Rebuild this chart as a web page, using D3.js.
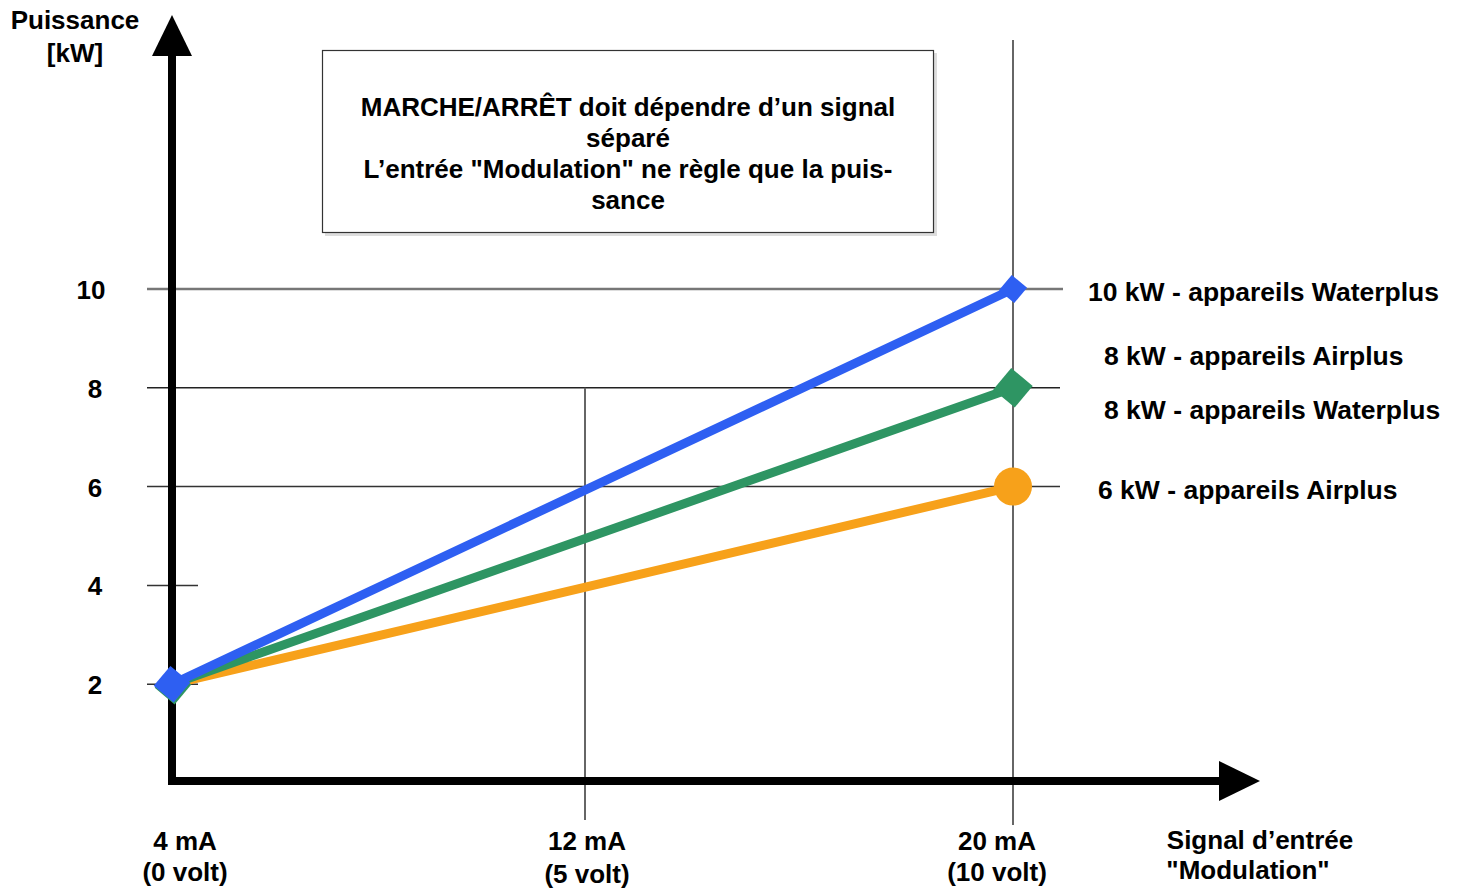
<!DOCTYPE html>
<html>
<head>
<meta charset="utf-8">
<script src="https://cdnjs.cloudflare.com/ajax/libs/d3/7.8.5/d3.min.js"></script>
<style>
  body { margin: 0; background: #fff; }
  text { font-family: "Liberation Sans", Arial, sans-serif; font-weight: bold; fill: #000; }
</style>
</head>
<body>
<div id="chart"></div>
<script>
  // data
  var signals = [4, 12, 20];
  var signalLabels = [["4 mA", "(0 volt)"], ["12 mA", "(5 volt)"], ["20 mA", "(10 volt)"]];
  var powerTicks = [2, 4, 6, 8, 10];
  var seriesNames = ["6 kW - appareils Airplus", "8 kW - appareils Waterplus", "10 kW - appareils Waterplus"];
  var seriesStart = [2, 2, 2];
  var seriesEnd = [6, 8, 10];
  var extraLabel = "8 kW - appareils Airplus";
  var noteLines = ["MARCHE/ARRÊT doit dépendre d’un signal", "séparé", "L’entrée \"Modulation\" ne règle que la puis-", "sance"];

  var W = 1462, H = 888;
  var svg = d3.select("#chart")
    .append("svg")
    .attr("width", W)
    .attr("height", H);

  var x = d3.scaleLinear().domain([4, 12, 20]).range([172, 585, 1013]);
  var y = d3.scaleLinear().domain([0, 10]).range([783, 289]);

  var colors = ["#f7a11a", "#2e9563", "#2e5ff2"];

  // horizontal grid lines
  svg.append("line").attr("x1", 147).attr("x2", 1063).attr("y1", y(10)).attr("y2", y(10))
    .style("stroke", "#777").style("stroke-width", 2.5);
  svg.append("line").attr("x1", 147).attr("x2", 1060).attr("y1", y(8)).attr("y2", y(8))
    .style("stroke", "#222").style("stroke-width", 1.5);
  svg.append("line").attr("x1", 147).attr("x2", 1060).attr("y1", y(6)).attr("y2", y(6))
    .style("stroke", "#333").style("stroke-width", 1.5);
  svg.append("line").attr("x1", 147).attr("x2", 198).attr("y1", y(4)).attr("y2", y(4))
    .style("stroke", "#333").style("stroke-width", 1.5);
  svg.append("line").attr("x1", 147).attr("x2", 198).attr("y1", y(2)).attr("y2", y(2))
    .style("stroke", "#333").style("stroke-width", 1.5);

  // vertical grid lines
  svg.append("line").attr("x1", x(12)).attr("x2", x(12)).attr("y1", y(8)).attr("y2", 820)
    .style("stroke", "#666").style("stroke-width", 2);
  svg.append("line").attr("x1", x(20)).attr("x2", x(20)).attr("y1", 40).attr("y2", 825)
    .style("stroke", "#666").style("stroke-width", 2);

  // note box
  svg.append("rect").attr("x", 325).attr("y", 53).attr("width", 612).attr("height", 183)
    .style("fill", "#ddd");
  svg.append("rect").attr("x", 322.5).attr("y", 50.5).attr("width", 611).attr("height", 182)
    .style("fill", "#fff").style("stroke", "#333").style("stroke-width", 1.2);
  svg.selectAll(".note").data(noteLines).enter().append("text")
    .attr("x", 628).attr("y", function(d, i) { return 116 + i * 31; })
    .attr("text-anchor", "middle")
    .style("font-size", "26px")
    .text(function(d) { return d; });

  // axes
  svg.append("line").attr("x1", 172).attr("x2", 172).attr("y1", 784).attr("y2", 50)
    .style("stroke", "#000").style("stroke-width", 8);
  svg.append("path").attr("d", "M152,56 L172,15 L192,56 Z").style("fill", "#000");
  svg.append("line").attr("x1", 168).attr("x2", 1225).attr("y1", 781).attr("y2", 781)
    .style("stroke", "#000").style("stroke-width", 8);
  svg.append("path").attr("d", "M1219,761 L1260,781 L1219,801 Z").style("fill", "#000");

  // series lines
  var line = d3.line().x(function(d) { return x(d[0]); }).y(function(d) { return y(d[1]); });
  seriesEnd.forEach(function(v, i) {
    svg.append("path")
      .attr("d", line([[4, seriesStart[i]], [20, v]]))
      .style("fill", "none")
      .style("stroke", colors[i])
      .style("stroke-width", 9)
      .style("stroke-linecap", "round");
  });

  // markers
  svg.append("circle").attr("cx", x(20)).attr("cy", y(seriesEnd[0])).attr("r", 19).style("fill", colors[0]);
  svg.append("rect").attr("x", -14).attr("y", -14).attr("width", 28).attr("height", 28)
    .attr("transform", "translate(" + x(20) + "," + y(seriesEnd[1]) + ") rotate(40)")
    .style("fill", colors[1]);
  svg.append("rect").attr("x", -10).attr("y", -10).attr("width", 20).attr("height", 20)
    .attr("transform", "translate(" + x(20) + "," + y(seriesEnd[2]) + ") rotate(40)")
    .style("fill", colors[2]);
  svg.append("rect").attr("x", -13).attr("y", -13).attr("width", 26).attr("height", 26)
    .attr("transform", "translate(" + (x(4) + 1) + "," + (y(2) + 2) + ") rotate(40)")
    .style("fill", colors[1]);
  svg.append("rect").attr("x", -13).attr("y", -13).attr("width", 26).attr("height", 26)
    .attr("transform", "translate(" + x(4) + "," + y(2) + ") rotate(40)")
    .style("fill", colors[2]);

  // y tick labels
  svg.selectAll(".ytick").data(powerTicks).enter().append("text")
    .attr("x", function(d) { return d == 10 ? 91 : 95; })
    .attr("y", function(d) { return y(d) + 10; })
    .attr("text-anchor", "middle")
    .style("font-size", "26px")
    .text(function(d) { return d; });

  // x tick labels
  var xl = [185, 587, 997];
  signalLabels.forEach(function(l, i) {
    svg.append("text").attr("x", xl[i]).attr("y", 850).attr("text-anchor", "middle")
      .style("font-size", "26px").text(l[0]);
    svg.append("text").attr("x", xl[i]).attr("y", 881 + (i == 1 ? 2 : 0)).attr("text-anchor", "middle")
      .style("font-size", "26px").text(l[1]);
  });

  // axis titles
  svg.append("text").attr("x", 75).attr("y", 29).attr("text-anchor", "middle").style("font-size", "26px").text("Puissance");
  svg.append("text").attr("x", 75).attr("y", 62).attr("text-anchor", "middle").style("font-size", "26px").text("[kW]");
  svg.append("text").attr("x", 1260).attr("y", 849).attr("text-anchor", "middle").style("font-size", "26px").text("Signal d’entrée");
  svg.append("text").attr("x", 1248).attr("y", 879).attr("text-anchor", "middle").style("font-size", "26px").text("\"Modulation\"");

  // series labels
  svg.append("text").attr("x", 1088).attr("y", 301).style("font-size", "26.5px").text(seriesNames[2]);
  svg.append("text").attr("x", 1104).attr("y", 365).style("font-size", "26.5px").text(extraLabel);
  svg.append("text").attr("x", 1104).attr("y", 419).style("font-size", "26.5px").text(seriesNames[1]);
  svg.append("text").attr("x", 1098).attr("y", 499).style("font-size", "26.5px").text(seriesNames[0]);
</script>
</body>
</html>
